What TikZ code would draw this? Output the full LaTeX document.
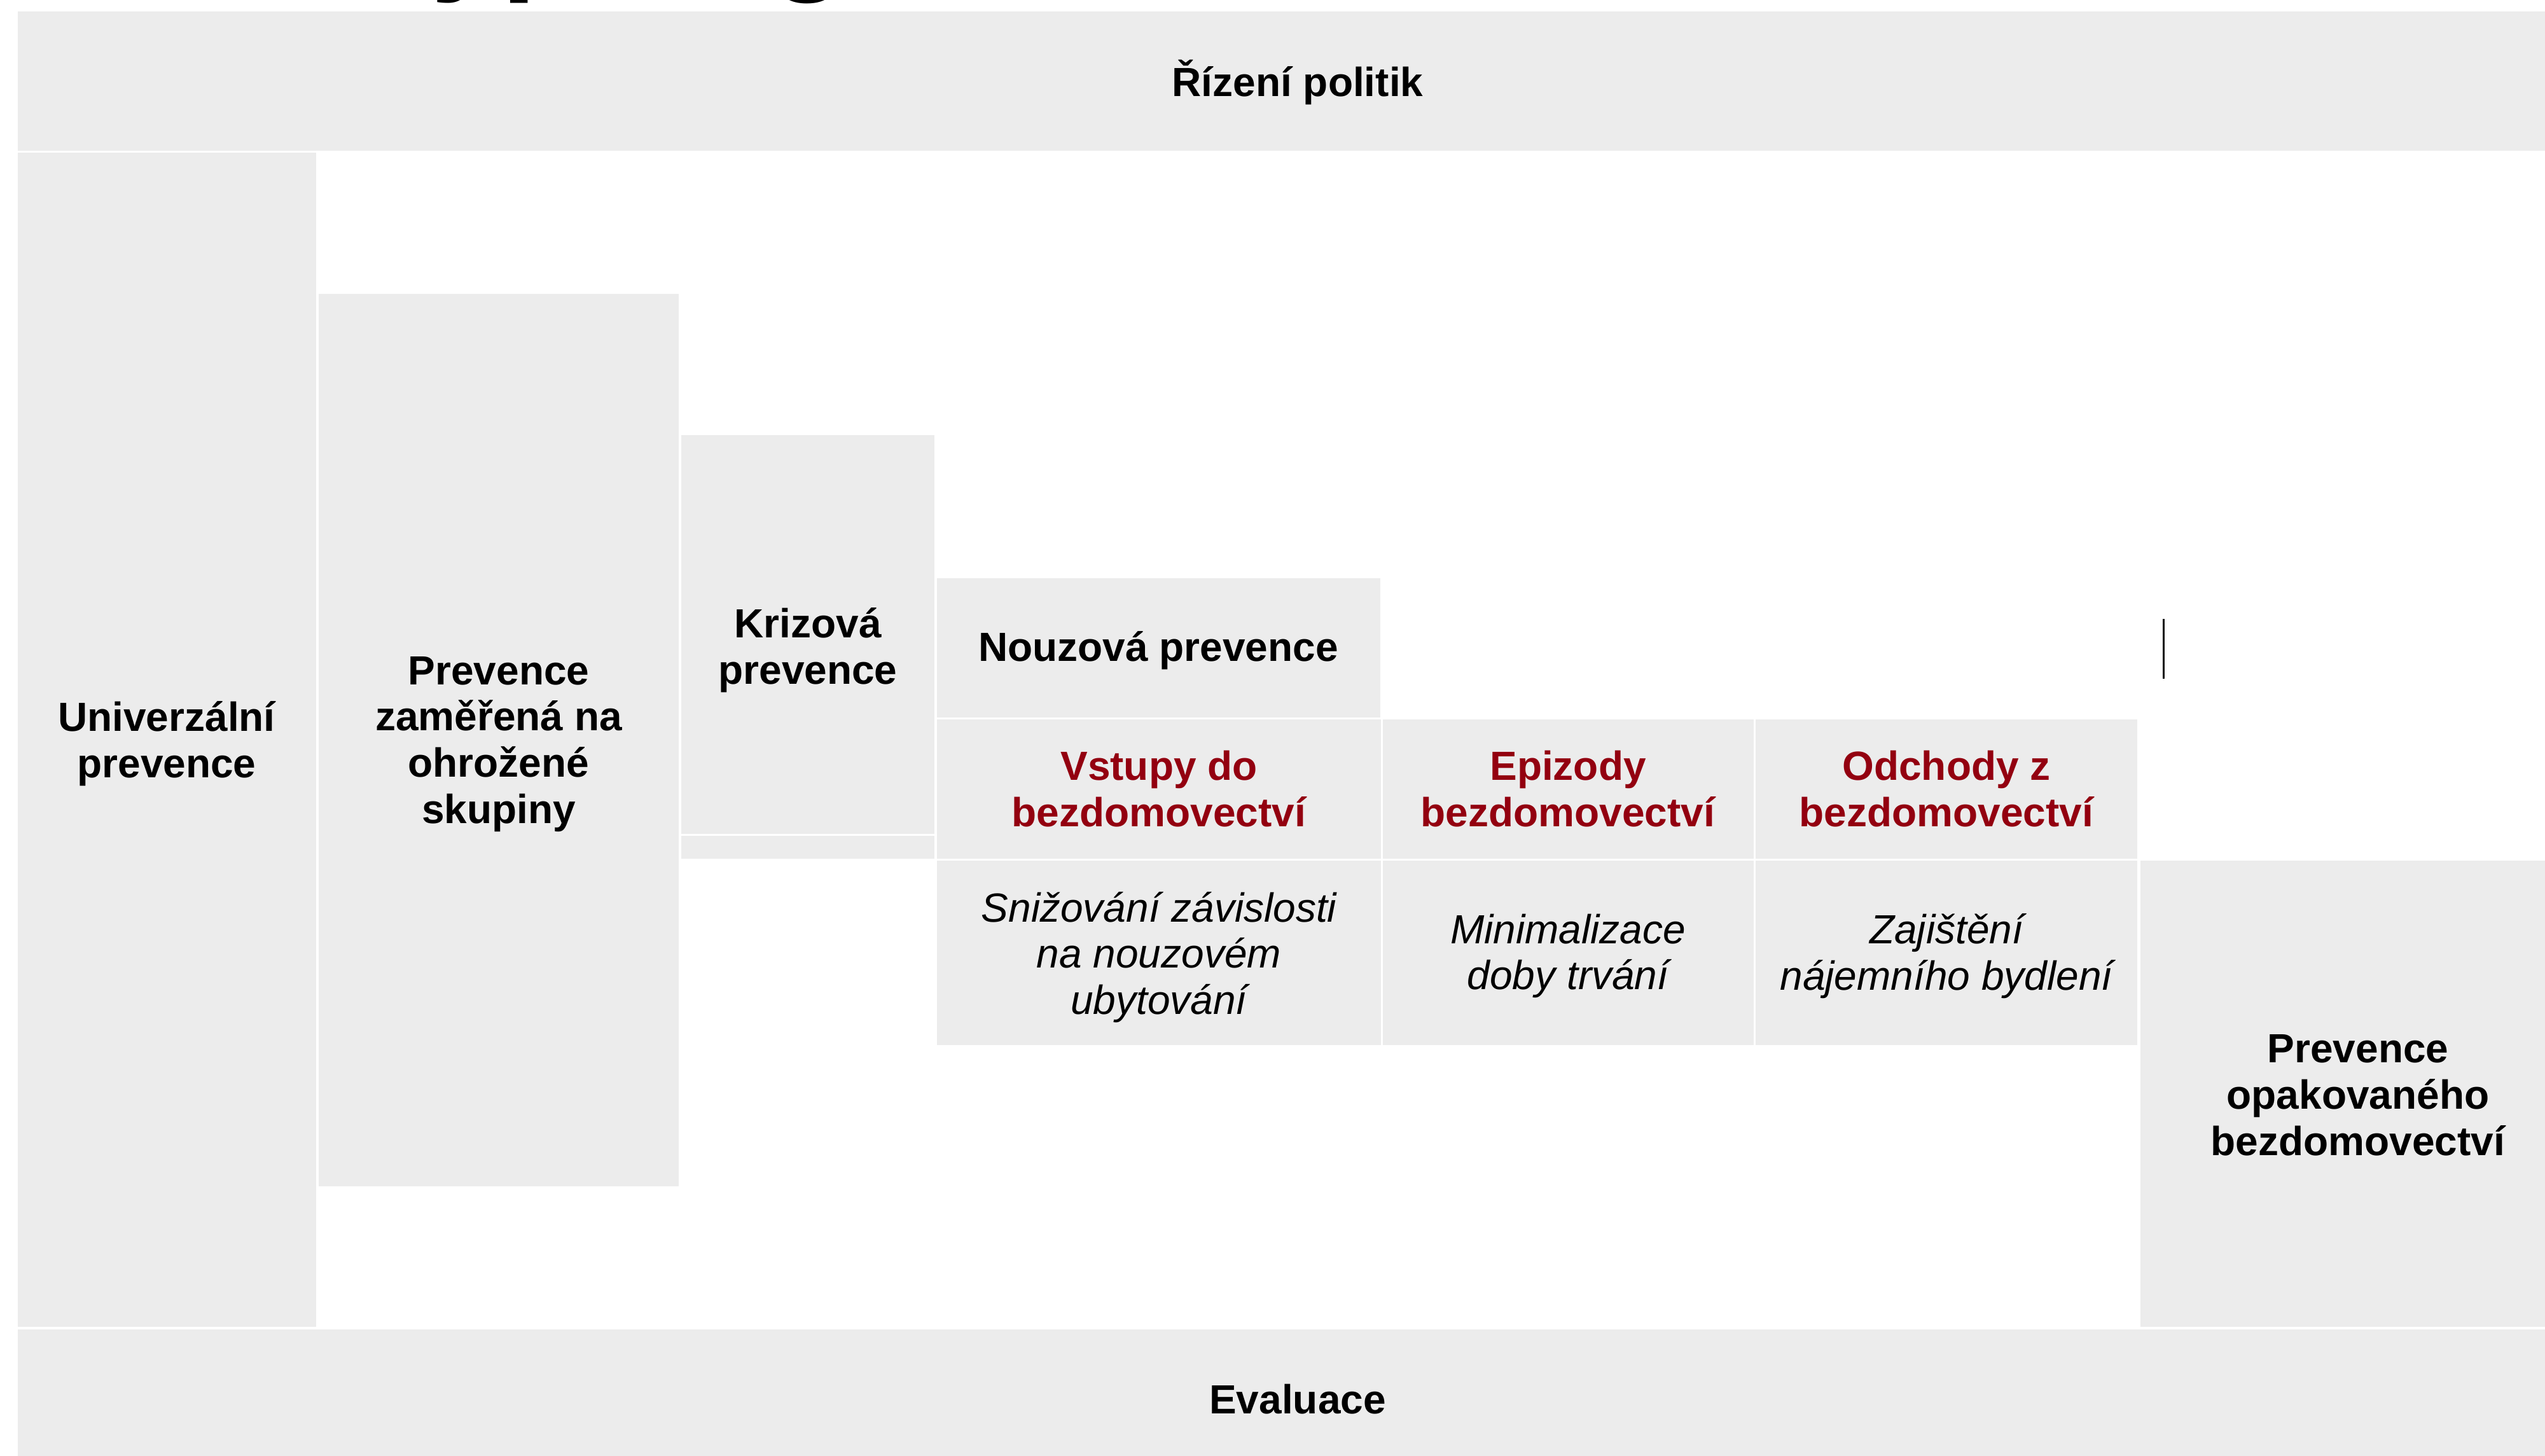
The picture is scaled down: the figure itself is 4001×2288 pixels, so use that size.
\documentclass[tikz,border=0pt]{standalone}
\usepackage{fontspec}
\setmainfont{Liberation Sans}
\usepackage{xcolor}
\definecolor{panel}{HTML}{ECECEC}
\definecolor{flow}{HTML}{930010}
\tikzset{
	box/.style={fill=panel, draw=none},
	head/.style={align=center, inner sep=0pt, text=black, font=\fontsize{18.2}{20.7}\selectfont\bfseries},
	stage/.style={head, text=flow},
	goal/.style={align=center, inner sep=0pt, text=black, font=\fontsize{18.2}{20.7}\selectfont\itshape}
}

\begin{document}
\begin{tikzpicture}[x=0.01cm,y=-0.01cm]
		\useasboundingbox (0,0) rectangle (4001,2288);
		\fill [white] (0,0) rectangle (4001,2288);
		%title, cut off at the top
		\node [anchor=base west, inner sep=0pt, font=\fontsize{56.9}{60}\selectfont\bfseries] (Titulek) at (569,-36) {Typologie};
		\begin{scope}
			%top and bottom bars
			\fill [box] (28,18) rectangle (4052,237);
			\node [head] (Rizeni) at (2040,129) {Řízení politik};
			\fill [box] (28,2090) rectangle (4052,2310);
			\node [head] (Evaluace) at (2040,2200) {Evaluace};
		\end{scope}
		\begin{scope}
			%staircase of prevention levels
			\fill [box] (28,240) rectangle (497,2086);
			\node [head] (Univerzalni) at (262,1169) {Univerzální\\prevence};
			\fill [box] (501,462) rectangle (1067,1865);
			\node [head] (Zamerena) at (784,1170) {Prevence\\zaměřená na\\ohrožené\\skupiny};
			\fill [box] (1071,684) rectangle (1469,1311);
			\fill [box] (1071,1314) rectangle (1469,1350);
			\node [head] (Krizova) at (1270,1022) {Krizová\\prevence};
			\fill [box] (1473,909) rectangle (2170,1128);
			\node [head] (Nouzova) at (1821,1023) {Nouzová prevence};
		\end{scope}
		\begin{scope}
			%stages of homelessness
			\fill [box] (1473,1131) rectangle (2171,1350);
			\node [stage] (Vstupy) at (1822,1240) {Vstupy do\\bezdomovectví};
			\fill [box] (2174,1131) rectangle (2757,1350);
			\node [stage] (Epizody) at (2465,1240) {Epizody\\bezdomovectví};
			\fill [box] (2760,1131) rectangle (3360,1350);
			\node [stage] (Odchody) at (3060,1240) {Odchody z\\bezdomovectví};
			%goals
			\fill [box] (1473,1353) rectangle (2171,1643);
			\node [goal] (Snizovani) at (1822,1505) {Snižování závislosti\\na nouzovém\\ubytování};
			\fill [box] (2174,1353) rectangle (2757,1643);
			\node [goal] (Minimalizace) at (2465,1503) {Minimalizace\\doby trvání};
			\fill [box] (2760,1353) rectangle (3360,1643);
			\node [goal] (Zajisteni) at (3060,1503) {Zajištění\\nájemního bydlení};
		\end{scope}
		%repeated homelessness
		\fill [box] (3365,1353) rectangle (4052,2086);
		\node [head] (Opakovane) at (3707,1722) {Prevence\\opakovaného\\bezdomovectví};
		%text cursor
		\fill [black] (3400,973) rectangle (3403,1067);
	\end{tikzpicture}
\end{document}
